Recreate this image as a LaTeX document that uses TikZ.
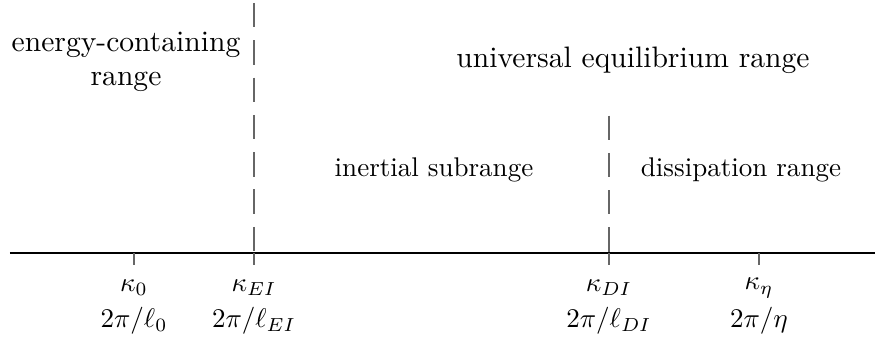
\documentclass[tikz,border=0pt]{standalone}
\usepackage{amsmath}
\usepackage{amssymb}

\begin{document}
\begin{tikzpicture}[x=0.37pt, y=-0.37pt,
  tickline/.style={draw=black!60, line width=0.55pt},
  divline/.style={draw=black!60, line width=0.55pt, dash pattern=on 9pt off 4.8pt},
  rangelabel/.style={align=center, inner sep=0pt},
  widelabel/.style={rangelabel, font=\fontsize{10.95}{12.6}\selectfont}]

  \useasboundingbox (0,0) rectangle (875,339);

  % Define axis height
  \def\ya{253}

  % Axis
  \coordinate (left) at (10,\ya);
  \coordinate (right) at (875,\ya);
  \draw[line width=0.55pt] (left) -- (right);

  % Ticks and wavenumbers
  \foreach \x/\name/\k/\l in {134/k0/{\kappa_0}/{2\pi/\ell_0},
                              254/kEI/{\kappa_{EI}}/{2\pi/\ell_{EI}},
                              609/kDI/{\kappa_{DI}}/{2\pi/\ell_{DI}},
                              759/keta/{\kappa_\eta}/{2\pi/\eta}} {
    \coordinate (\name) at (\x,\ya);
    \coordinate (\name-b) at (\x,265);
    \draw[tickline] (\name) -- (\name-b);
    \node[inner sep=0pt] (\name-k) at (\x,288) {$\k$};
    \node[inner sep=0pt] (\name-l) at (\x,321) {$\l$};
  }

  % Range dividers
  \coordinate (kEI-t) at (254,3);
  \coordinate (kDI-t) at (609,115.5);
  \draw[divline] (kEI-t) -- (kEI);
  \draw[divline] (kDI-t) -- (kDI);

  % Range labels
  \node[widelabel] (energy) at (126,62) {energy-containing\\range};
  \node[widelabel] (universal) at (633,60) {universal equilibrium range};
  \node[rangelabel] (inertial) at (434,170) {inertial subrange};
  \node[rangelabel] (dissip) at (741,170) {dissipation range};

\end{tikzpicture}
\end{document}
